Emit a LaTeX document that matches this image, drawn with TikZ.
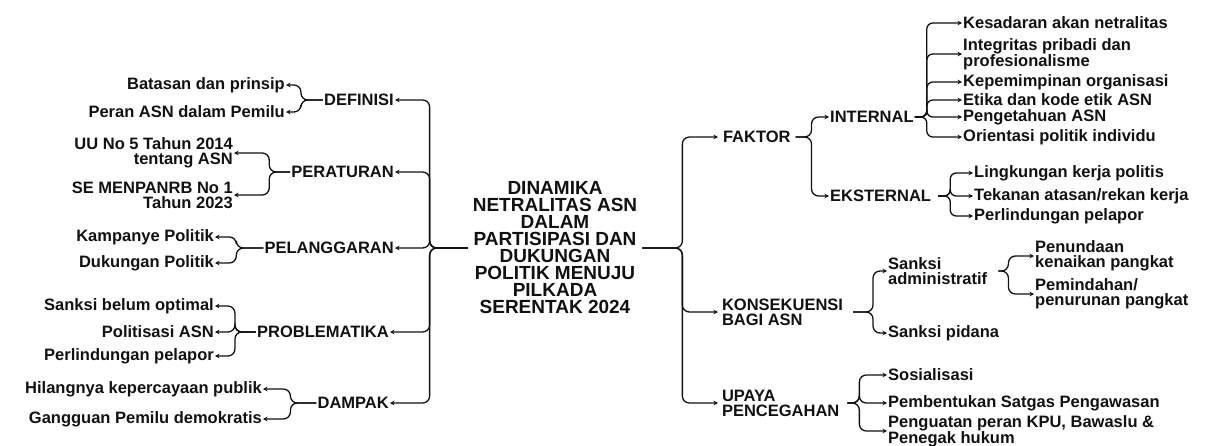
\documentclass[tikz,border=0pt]{standalone}
\usepackage{fontspec}
\setmainfont{Liberation Sans}
\usetikzlibrary{arrows.meta}
\definecolor{ink}{HTML}{111111}
\begin{document}
\begin{tikzpicture}[x=1pt,y=-1pt,
  every node/.style={text=ink},
  lbl/.style={font=\fontsize{16.5}{15}\selectfont\bfseries, inner sep=1pt},
  lft/.style={lbl, anchor=east, align=right},
  rgt/.style={lbl, anchor=west, align=left},
  ttl/.style={font=\fontsize{19}{17}\selectfont\bfseries, align=center, inner sep=5pt},
  conn/.style={draw=ink, line width=1.3pt, rounded corners=7pt, -{Stealth[length=4.5pt,width=4.5pt]}}
]
\useasboundingbox (0,0) rectangle (1211,445);

\node[ttl] (t) at (555,248) {DINAMIKA\\NETRALITAS ASN\\DALAM\\PARTISIPASI DAN\\DUKUNGAN\\POLITIK MENUJU\\PILKADA\\SERENTAK 2024};

% ---------- left side level 1
\node[lft] (def) at (395,100) {DEFINISI};
\node[lft] (per) at (395,172) {PERATURAN};
\node[lft] (pel) at (395,248) {PELANGGARAN};
\node[lft] (pro) at (390,332) {PROBLEMATIKA};
\node[lft] (dam) at (390,403) {DAMPAK};

\foreach \n in {def,per,pel,pro,dam}
  \draw[conn] (t.west) -- ++(-38,0) |- (\n.east);

% ---------- left side level 2
\node[lft] (b1) at (286,85) {Batasan dan prinsip};
\node[lft] (b2) at (286,112) {Peran ASN dalam Pemilu};
\node[lft] (p1) at (234,153) {UU No 5 Tahun 2014\\tentang ASN};
\node[lft] (p2) at (234,195) {SE MENPANRB No 1\\Tahun 2023};
\node[lft] (g1) at (215,237) {Kampanye Politik};
\node[lft] (g2) at (215,263) {Dukungan Politik};
\node[lft] (r1) at (215,306) {Sanksi belum optimal};
\node[lft] (r2) at (215,332) {Politisasi ASN};
\node[lft] (r3) at (215,356) {Perlindungan pelapor};
\node[lft] (d1) at (263,389) {Hilangnya kepercayaan publik};
\node[lft] (d2) at (263,419) {Gangguan Pemilu demokratis};

\foreach \n in {b1,b2} \draw[conn] (def.west) -- ++(-22,0) |- (\n.east);
\foreach \n in {p1,p2} \draw[conn] (per.west) -- ++(-21,0) |- (\n.east);
\foreach \n in {g1,g2} \draw[conn] (pel.west) -- ++(-27,0) |- (\n.east);
\foreach \n in {r1,r2,r3} \draw[conn] (pro.west) -- ++(-21,0) |- (\n.east);
\foreach \n in {d1,d2} \draw[conn] (dam.west) -- ++(-26,0) |- (\n.east);

% ---------- right side level 1
\node[rgt, outer xsep=4pt] (fak) at (718,137) {FAKTOR};
\node[rgt, outer xsep=3pt] (kon) at (718,312) {KONSEKUENSI\\BAGI ASN};
\node[rgt, outer xsep=3pt] (upa) at (718,403) {UPAYA\\PENCEGAHAN};

\foreach \n in {fak,kon,upa}
  \draw[conn] (t.east) -- ++(40,0) |- (\n.west);

% ---------- right side level 2
\node[rgt] (int) at (829,117) {INTERNAL};
\node[rgt] (eks) at (829,196) {EKSTERNAL};
\foreach \n in {int,eks} \draw[conn] (fak.east) -- ++(16,0) |- (\n.west);

\node[rgt] (i1) at (962,23) {Kesadaran akan netralitas};
\node[rgt] (i2) at (962,54) {Integritas pribadi dan\\profesionalisme};
\node[rgt] (i3) at (962,82) {Kepemimpinan organisasi};
\node[rgt] (i4) at (962,100) {Etika dan kode etik ASN};
\node[rgt] (i5) at (962,117) {Pengetahuan ASN};
\node[rgt] (i6) at (962,137) {Orientasi politik individu};
\foreach \n in {i1,i2,i3,i4,i5,i6} \draw[conn, rounded corners=6pt] (int.east) -- ++(12,0) |- (\n.west);

\node[rgt] (e1) at (973,173) {Lingkungan kerja politis};
\node[rgt] (e2) at (973,196) {Tekanan atasan/rekan kerja};
\node[rgt] (e3) at (973,216) {Perlindungan pelapor};
\foreach \n in {e1,e2,e3} \draw[conn, rounded corners=6pt] ([xshift=6pt]eks.east) -- ++(12,0) |- (\n.west);

\node[rgt] (k1) at (887,271) {Sanksi\\administratif};
\node[rgt] (k2) at (887,333) {Sanksi pidana};
\foreach \n in {k1,k2} \draw[conn] ([xshift=6pt]kon.east) -- ++(20,0) |- (\n.west);

\node[rgt] (s1) at (1034,256) {Penundaan\\kenaikan pangkat};
\node[rgt] (s2) at (1034,294) {Pemindahan/\\penurunan pangkat};
\foreach \n in {s1,s2} \draw[conn] ([xshift=10pt]k1.east) -- ++(10,0) |- (\n.west);

\node[rgt] (u1) at (887,375) {Sosialisasi};
\node[rgt] (u2) at (887,403) {Pembentukan Satgas Pengawasan};
\node[rgt] (u3) at (887,431) {Penguatan peran KPU, Bawaslu \&\\Penegak hukum};
\foreach \n in {u1,u2,u3} \draw[conn] ([xshift=4pt]upa.east) -- ++(12,0) |- (\n.west);
\end{tikzpicture}
\end{document}
